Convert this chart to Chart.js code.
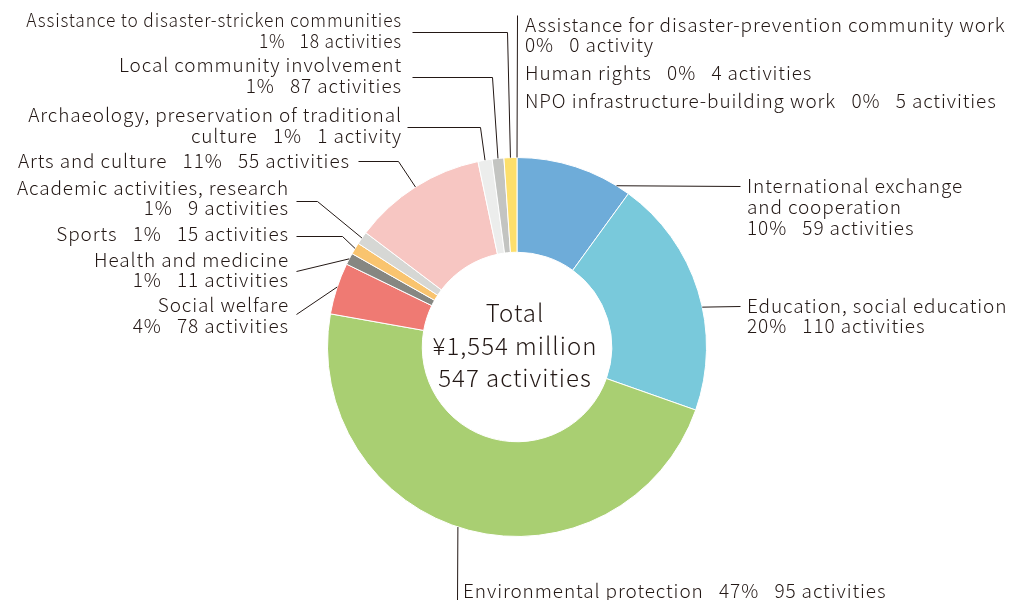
<!DOCTYPE html>
<html lang="en">
<head>
    <meta charset="UTF-8">
    <title>Grants by field</title>
    <script src="https://cdn.jsdelivr.net/npm/chart.js"></script>
    <style>
        html, body { margin: 0; padding: 0; background: #fff; }
        #wrap { width: 1018px; height: 600px; position: relative; }
    </style>
</head>
<body>
    <div id="wrap">
        <canvas id="donut" width="1018" height="600"></canvas>
    </div>

    <script>
        // slices clockwise from 12 o'clock
        const categories = [
            "International exchange and cooperation",
            "Education, social education",
            "Environmental protection",
            "Social welfare",
            "Health and medicine",
            "Sports",
            "Academic activities, research",
            "Arts and culture",
            "Archaeology, preservation of traditional culture",
            "Local community involvement",
            "Assistance to disaster-stricken communities",
            "Human rights",
            "NPO infrastructure-building work",
            "Assistance for disaster-prevention community work"
        ];
        // share of the grant total, %
        const shares = [10.0, 20.4, 47.4, 4.4, 1.0, 1.0, 1.1, 11.4, 1.2, 1.0, 1.1, 0, 0, 0];
        const activities = [59, 110, 95, 78, 11, 15, 9, 55, 1, 87, 18, 4, 5, 0];
        const colors = [
            "#6eacd9", "#79c9db", "#a9cf72", "#ef7a73", "#868782", "#f9c46f", "#d6d7d4",
            "#f7c6c2", "#ecedec", "#c3c4c1", "#fddf6c", "#e0e0e0", "#e0e0e0", "#e0e0e0"
        ];
        const centerLines = ["Total", "¥1,554 million", "547 activities"];

        const INK = "#231815";
        const FONT = '"Noto Sans CJK JP", "Noto Sans", sans-serif';

        // where each slice's caption sits and how its leader line runs
        const labelLayout = [
            { x: 747, ys: [193, 214, 235], align: "left", lines: ["International exchange", "and cooperation", "{p}   {n}"], path: [[740, 186]], t: 0.88 },
            { x: 747, ys: [313, 333], align: "left", lines: ["Education, social education", "{p}   {n}"], path: [[740, 306]], t: 0.57 },
            { x: 463, ys: [598], align: "left", lines: ["{name}   {p}   {n}"], path: [[457, 600]], t: 0.52 },
            { x: 289, ys: [312, 333], align: "right", lines: ["Social welfare", "{p}   {n}"], path: [[296, 314]], t: 0.53 },
            { x: 289, ys: [267, 287], align: "right", lines: ["Health and medicine", "{p}   {n}"], path: [[296, 271]], t: 0.5 },
            { x: 289, ys: [241], align: "right", lines: ["{name}   {p}   {n}"], path: [[296, 236], [342, 236]], t: 0.5 },
            { x: 289, ys: [195, 215], align: "right", lines: ["Academic activities, research", "{p}   {n}"], path: [[296, 201], [317, 201]], t: 0.5 },
            { x: 350, ys: [168], align: "right", lines: ["{name}   {p}   {n}"], path: [[358, 161], [398, 161]], t: 0.5 },
            { x: 402, ys: [122, 143], align: "right", lines: ["Archaeology, preservation of traditional", "culture   {p}   {n}"], path: [[407, 127], [480, 127]], t: 0.5 },
            { x: 402, ys: [72, 93], align: "right", lines: ["Local community involvement", "{p}   {n}"], path: [[412, 77], [492, 77]], t: 0.5 },
            { x: 402, ys: [27, 48], align: "right", squeeze: 0.915, lines: ["Assistance to disaster-stricken communities", "{p}   {n}"], path: [[412, 32], [507, 32]], t: 0.5 },
            { x: 525, ys: [80], align: "left", lines: ["{name}   {p}   {n}"], path: null },
            { x: 525, ys: [108], align: "left", lines: ["{name}   {p}   {n}"], path: null },
            { x: 525, ys: [32, 52], align: "left", lines: ["Assistance for disaster-prevention community work", "{p}   {n}"], path: [[517, 15]], t: 0.5 }
        ];

        function fillTemplate(str, i) {
            const n = activities[i];
            return str
                .replace("{name}", categories[i])
                .replace("{p}", Math.round(shares[i]) + "%")
                .replace("{n}", n + (n <= 1 ? " activity" : " activities"));
        }

        const calloutPlugin = {
            id: "callouts",
            afterDraw(chart) {
                const ctx = chart.ctx;
                const meta = chart.getDatasetMeta(0);
                ctx.save();

                // leader lines
                ctx.strokeStyle = INK;
                ctx.lineWidth = 1;
                labelLayout.forEach((lab, i) => {
                    if (!lab.path) return;
                    const arc = meta.data[i].getProps(["x", "y", "startAngle", "endAngle", "outerRadius"], true);
                    const a = arc.startAngle + lab.t * (arc.endAngle - arc.startAngle);
                    const ex = arc.x + Math.cos(a) * arc.outerRadius;
                    const ey = arc.y + Math.sin(a) * arc.outerRadius;
                    ctx.beginPath();
                    lab.path.forEach((p, k) => {
                        const px = p[0] + 0.5, py = p[1] + 0.5;
                        if (k === 0) ctx.moveTo(px, py);
                        else ctx.lineTo(px, py);
                    });
                    ctx.lineTo(ex, ey);
                    ctx.stroke();
                });

                // captions
                ctx.fillStyle = INK;
                ctx.font = "300 19px " + FONT;
                ctx.letterSpacing = "0.9px";
                ctx.textBaseline = "alphabetic";
                labelLayout.forEach((lab, i) => {
                    ctx.textAlign = lab.align;
                    const sx = lab.squeeze || 1;
                    lab.lines.forEach((ln, k) => {
                        ctx.save();
                        ctx.translate(lab.x, lab.ys[k]);
                        ctx.scale(sx, 1);
                        ctx.fillText(fillTemplate(ln, i), 0, 0);
                        ctx.restore();
                    });
                });

                // centre text
                const c = meta.data[0];
                ctx.font = "300 24px " + FONT;
                ctx.letterSpacing = "1px";
                ctx.textAlign = "center";
                centerLines.forEach((ln, k) => {
                    ctx.fillText(ln, c.x - 2, 322 + k * 32.5);
                });
                ctx.restore();
            }
        };

        new Chart(document.getElementById("donut"), {
            type: "doughnut",
            data: {
                labels: categories,
                datasets: [{
                    data: shares,
                    backgroundColor: colors,
                    borderColor: "#ffffff",
                    borderWidth: 1,
                    hoverOffset: 0
                }]
            },
            options: {
                responsive: false,
                animation: false,
                cutout: "50%",
                layout: { padding: { left: 320, right: 304, top: 157, bottom: 63 } },
                plugins: {
                    legend: { display: false },
                    tooltip: { enabled: false }
                }
            },
            plugins: [calloutPlugin]
        });
    </script>
</body>
</html>
